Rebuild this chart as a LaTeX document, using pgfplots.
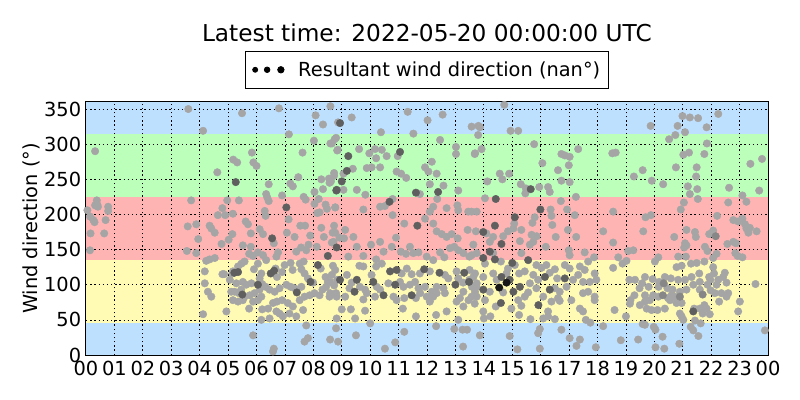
\documentclass[border=0pt]{standalone}
\usepackage{fontspec}
\setmainfont{DejaVu Sans}
\usepackage{pgfplots}
\pgfplotsset{compat=1.18}
\definecolor{bandblue}{RGB}{190,224,255}
\definecolor{bandyellow}{RGB}{255,251,180}
\definecolor{bandred}{RGB}{255,180,180}
\definecolor{bandgreen}{RGB}{187,255,187}
\definecolor{ptlight}{RGB}{165,165,165}
\definecolor{ptmid}{RGB}{135,135,135}
\definecolor{ptdark}{RGB}{95,95,95}
\definecolor{ptblack}{RGB}{25,25,25}
\begin{document}
\begin{tikzpicture}
\useasboundingbox (0,0) rectangle (576bp,288bp);
\node[anchor=base, inner sep=0pt, font=\fontsize{16.8}{20}\selectfont] at (307.4bp,257.8bp) {Latest time: 2022-05-20 00:00:00 UTC};
\begin{axis}[
  at={(61.92bp,32.4bp)}, anchor=south west,
  scale only axis, width=491.04bp, height=182.16bp,
  xmin=0, xmax=24, ymin=0, ymax=360,
  xtick={0,1,...,24},
  xticklabels={00,01,02,03,04,05,06,07,08,09,10,11,12,13,14,15,16,17,18,19,20,21,22,23,00},
  ytick={0,50,100,150,200,250,300,350},
  yticklabels={0,50,100,150,200,250,300,350},
  tick align=inside,
  major tick length=4bp,
  tick style={black, line width=0.6bp},
  axis line style={line width=0.8bp},
  ticklabel style={font=\fontsize{14}{16}\selectfont},
  xticklabel style={inner ysep=0.5bp, yshift=-3.8bp},
  yticklabel style={inner ysep=0.5bp},
  ylabel={Wind direction (°)},
  ylabel style={font=\fontsize{14}{16}\selectfont, at={(axis description cs:-0.0806,0.5)}, anchor=center},
  legend style={at={(0.5,1)}, anchor=south, yshift=9.36bp, draw=black, line width=0.6bp, fill=white,
    font=\fontsize{14}{16}\selectfont, inner xsep=4bp, inner ysep=5.5bp},
  legend cell align=left,
  gridline/.style={black, line width=0.5bp, dash pattern=on 1bp off 2bp, forget plot},
  pts/.style={only marks, mark=*, mark size=2.7bp, mark options={draw=#1, fill=#1, line width=0.3bp}, forget plot},
]
\addplot[draw=none, fill=bandblue, forget plot] coordinates {(0,360) (24,360)} \closedcycle;
\addplot[draw=none, fill=bandgreen, forget plot] coordinates {(0,315) (24,315)} \closedcycle;
\addplot[draw=none, fill=bandred, forget plot] coordinates {(0,225) (24,225)} \closedcycle;
\addplot[draw=none, fill=bandyellow, forget plot] coordinates {(0,135) (24,135)} \closedcycle;
\addplot[draw=none, fill=bandblue, forget plot] coordinates {(0,45) (24,45)} \closedcycle;

\pgfplotsinvokeforeach{1,...,23}{\addplot[gridline] coordinates {(#1,0) (#1,360)};}
\pgfplotsinvokeforeach{50,100,...,350}{\addplot[gridline] coordinates {(0,#1) (24,#1)};}

\addlegendimage{legend image code/.code={
  \path[draw=none, fill=none] (-3bp,-0.1bp) rectangle (29bp,0.1bp);
  \fill[black] (0bp,0bp) circle (1.8bp);
  \fill[black] (8.6bp,0bp) circle (2.0bp);
  \fill[black] (18.5bp,0bp) circle (2.3bp);
}}
\addlegendentry{Resultant wind direction (nan°)}

% light points
\addplot[pts=ptlight] table {
h d
0.32 290
0.05 206
0.38 220
0.40 214
0.32 213
0.42 211
0.14 197
0.26 192
0.30 189
0.78 211
0.78 205
0.69 192
0.16 173
0.64 173
0.14 149
3.60 350
3.58 183
3.55 148
6.79 351
5.49 344
4.12 319
8.08 341
8.34 328
8.60 354
8.87 331
7.14 314
8.02 305
8.60 301
8.75 307
8.84 291
5.84 288
7.62 288
5.18 278
5.32 274
5.89 274
6.00 269
4.62 260
6.43 243
7.19 244
7.47 253
7.28 240
8.28 250
8.34 236
8.55 251
8.57 245
8.73 255
8.04 232
6.90 227
6.34 229
6.38 224
6.43 219
7.66 225
7.73 221
8.19 222
3.70 220
5.38 220
4.97 220
8.43 214
8.48 208
8.77 210
4.80 209
4.64 199
4.90 199
5.17 201
6.29 205
6.32 198
8.14 202
8.22 203
8.04 215
7.13 193
3.88 186
4.35 184
4.41 180
4.53 174
5.62 190
5.70 186
5.80 173
6.11 179
6.23 172
5.15 172
3.95 165
5.02 164
4.77 158
5.52 156
5.80 154
6.61 159
6.76 146
6.70 140
7.07 174
7.34 168
7.54 184
7.71 184
7.83 157
7.57 153
7.40 147
7.89 170
8.12 154
8.28 181
8.37 168
8.65 160
8.77 174
8.73 184
7.75 149
6.23 142
6.05 146
5.88 141
5.74 144
4.53 138
4.35 136
4.23 134
3.88 145
5.58 133
5.47 130
5.35 126
5.17 119
5.15 116
4.86 115
4.18 119
6.05 130
5.91 122
6.17 116
6.11 109
6.34 135
6.67 123
6.72 111
6.90 118
6.99 128
7.20 131
7.52 130
7.27 121
7.58 122
7.66 133
7.69 116
7.81 109
7.99 103
8.26 123
8.43 111
8.51 104
8.65 114
8.84 107
8.73 99
8.69 127
5.06 107
5.29 102
5.52 104
5.64 100
5.82 102
5.46 93
5.23 90
5.11 90
5.38 88
5.58 83
5.76 85
5.93 88
6.11 93
6.20 101
6.32 97
6.46 93
6.64 90
6.81 95
7.05 100
7.20 97
7.34 95
7.58 97
7.69 83
7.87 85
8.04 88
8.22 85
8.32 93
8.45 97
8.57 83
8.80 88
5.17 78
5.35 76
5.52 78
5.74 66
5.88 76
6.05 78
6.17 83
6.41 66
6.58 74
6.72 76
6.90 78
7.10 74
7.28 69
7.52 78
7.64 64
6.70 62
6.81 59
7.16 59
6.20 65
4.94 62
4.12 58
4.41 83
4.29 90
4.18 102
4.80 115
6.17 50
6.46 52
6.93 55
7.40 55
7.75 42
7.81 24
7.69 19
5.88 28
6.61 9
6.58 5
8.80 38
8.87 19
9.35 338
11.32 346
12.55 342
12.02 334
13.57 325
13.81 326
10.38 317
11.52 315
12.46 306
8.65 301
8.80 309
8.86 292
9.61 293
9.97 287
10.17 293
10.41 292
10.58 283
10.21 280
10.97 283
13.02 296
13.02 286
13.69 287
9.88 266
10.05 267
10.35 267
10.93 261
11.09 258
11.27 252
9.39 265
9.06 258
8.73 259
8.62 247
9.06 235
9.53 235
9.83 228
11.93 267
12.05 261
12.17 275
12.34 258
12.58 241
12.10 243
11.75 229
12.36 222
13.10 234
10.79 222
10.52 212
10.35 211
8.77 210
9.76 207
10.79 199
12.10 204
12.22 211
12.69 209
13.07 213
13.10 206
13.45 204
13.75 204
11.20 187
11.93 194
12.22 187
12.34 176
12.52 172
12.69 168
12.81 152
12.96 154
13.10 149
13.28 145
12.87 172
13.08 166
13.43 178
13.72 176
13.49 140
13.75 145
8.68 174
8.71 161
8.92 167
9.12 178
9.08 166
9.41 168
9.53 154
10.03 157
10.35 161
10.76 154
10.91 167
11.08 147
11.40 154
11.52 145
11.70 146
11.99 140
11.26 144
12.46 146
12.61 139
9.23 140
9.76 141
10.21 136
10.47 147
12.22 135
9.76 126
9.62 127
10.21 126
10.41 130
11.11 116
11.29 123
11.46 115
11.75 116
12.10 119
12.63 114
12.75 109
13.04 119
13.49 107
13.69 116
13.75 102
8.77 121
8.59 104
9.18 114
9.35 103
9.27 95
9.64 97
9.82 93
9.88 88
10.05 114
10.23 97
10.35 93
10.64 102
11.05 104
11.17 97
11.40 100
11.58 104
11.70 95
11.76 88
11.93 97
11.99 83
12.17 90
12.34 97
12.58 95
12.63 88
13.10 109
13.27 103
13.58 97
13.28 90
13.69 90
8.59 88
8.82 83
9.12 83
9.76 79
10.17 83
10.82 83
10.93 78
11.20 81
11.61 81
12.10 76
12.22 83
12.34 88
13.04 76
13.16 81
13.46 78
13.75 83
9.00 65
9.32 65
9.82 63
11.15 66
11.61 55
12.32 57
12.69 62
13.10 50
13.28 69
8.82 52
9.47 52
10.00 45
9.50 28
10.52 9
10.88 18
11.20 33
12.32 41
12.96 37
13.27 12
13.25 36
13.41 36
8.59 22
14.72 356
13.86 324
13.80 313
14.94 319
15.21 319
15.77 300
13.68 286
13.92 293
16.73 286
16.85 284
17.02 282
17.32 293
18.52 287
18.64 288
16.06 273
16.61 263
16.99 270
14.56 258
14.65 250
14.89 258
14.12 247
15.30 243
15.48 237
15.46 230
15.95 239
16.26 239
16.32 232
16.73 248
17.02 246
17.24 225
14.04 223
16.35 207
16.71 219
16.93 207
18.55 204
15.79 196
16.38 198
15.71 188
17.20 199
15.07 187
15.04 180
14.09 173
14.33 168
14.68 169
14.85 176
15.32 178
15.68 171
15.86 169
16.41 185
16.53 168
16.96 178
17.25 168
18.20 176
13.63 157
14.21 161
15.27 162
15.62 157
15.74 161
16.18 154
16.99 149
17.02 142
17.55 146
17.88 139
18.55 160
14.33 145
14.04 130
13.57 142
15.32 145
14.60 133
15.09 128
14.85 123
15.85 128
16.03 124
16.20 128
16.50 122
16.85 128
17.02 123
17.38 126
17.55 121
17.67 133
17.90 116
18.55 124
15.44 119
15.24 116
13.50 121
13.63 111
13.98 111
14.33 116
14.45 107
14.80 116
15.74 114
15.91 107
16.32 117
16.58 109
17.14 107
17.32 114
17.49 104
17.73 104
17.96 107
13.74 97
14.21 90
14.68 89
15.62 102
15.56 89
15.85 95
16.50 95
16.67 90
16.91 97
17.49 88
17.90 83
17.67 90
13.57 83
14.04 78
15.21 78
15.44 83
16.09 83
16.38 76
16.61 81
16.67 77
17.08 78
17.38 66
13.68 73
13.98 62
14.42 69
14.97 66
15.32 70
16.26 62
17.49 62
17.90 78
14.00 52
14.23 55
15.24 57
15.64 51
16.09 52
16.26 55
16.50 51
17.59 50
17.75 46
18.60 64
16.73 36
15.97 37
15.91 31
14.91 27
13.86 28
17.02 24
17.38 22
18.20 41
15.18 8
15.97 9
17.26 13
17.94 11
13.57 204
22.25 343
20.99 340
21.25 338
21.54 337
20.82 326
19.87 326
21.84 324
21.08 317
20.74 313
20.52 307
21.85 301
21.02 285
21.22 288
21.76 286
23.38 272
23.79 279
19.59 263
20.76 267
21.49 267
19.28 254
19.91 248
20.31 243
21.47 254
21.18 240
21.51 236
21.25 229
21.53 222
22.63 238
23.69 234
23.10 227
23.24 218
22.60 217
21.04 217
20.93 207
22.21 198
19.69 196
19.88 199
22.78 192
22.95 190
23.10 194
23.19 186
23.24 180
23.36 181
23.60 176
23.31 174
19.61 176
21.13 178
21.43 175
21.46 168
21.93 172
22.07 177
20.70 168
21.08 159
21.05 153
21.13 156
21.78 154
21.87 148
22.57 158
22.78 161
22.87 159
22.85 145
22.93 141
23.10 139
22.19 144
22.07 138
19.08 148
19.26 149
18.73 139
18.88 130
19.02 134
20.14 139
20.02 133
20.84 140
21.11 140
21.29 130
21.49 131
20.78 125
20.96 127
21.76 133
22.07 125
22.10 116
21.93 111
21.97 107
21.58 116
21.31 111
21.08 107
20.84 107
20.58 109
20.37 111
20.17 104
19.94 108
19.67 111
19.32 107
19.12 107
22.48 117
22.42 111
22.25 107
22.54 103
22.19 100
21.87 100
21.60 104
21.37 100
21.13 93
20.90 90
20.64 93
20.46 95
20.15 97
19.80 97
19.57 102
19.48 95
23.56 101
22.36 88
22.54 83
22.60 88
22.13 88
21.98 92
21.60 93
20.60 85
20.48 81
20.14 83
19.96 85
19.67 85
19.30 85
19.16 78
19.14 73
19.49 71
19.67 76
19.84 78
19.73 66
19.90 64
20.11 64
20.37 66
20.55 78
20.72 83
20.78 74
20.96 74
21.40 66
21.60 66
21.76 71
21.84 66
21.70 59
21.95 58
22.28 76
23.01 76
22.95 62
19.00 55
19.59 44
19.67 43
19.98 40
20.04 36
20.90 59
20.96 55
21.02 50
21.43 49
21.63 45
21.28 40
21.37 35
21.55 27
20.29 26
19.43 22
18.82 21
20.04 11
20.35 9
20.88 16
23.89 35
};

% mid points
\addplot[pts=ptmid] table {
h d
22.16 169
20.33 102
21.70 86
20.30 85
20.90 83
};

% dark points
\addplot[pts=ptdark] table {
h d
5.27 246
8.81 234
7.05 210
6.55 166
8.51 141
6.50 116
7.90 104
8.16 128
7.42 89
5.22 117
5.35 118
5.50 86
6.05 100
6.62 120
8.94 330
9.23 283
11.05 289
9.18 262
9.00 247
8.82 235
11.61 231
12.39 232
10.68 218
11.66 184
8.82 153
10.70 119
10.93 121
11.90 122
12.44 117
13.31 117
8.94 107
9.53 107
9.45 90
10.11 104
10.47 85
10.88 100
11.46 85
13.00 100
13.48 104
15.65 236
14.42 222
15.99 207
15.09 196
14.39 184
13.98 175
14.62 158
14.21 147
13.98 138
14.39 136
15.00 131
15.56 135
14.62 111
14.91 107
16.15 111
16.85 109
15.27 97
15.04 90
13.98 93
16.32 93
14.60 74
15.92 71
21.37 62
};

% black points
\addplot[pts=ptblack] table {
h d
14.54 96
14.80 103
};
\end{axis}
\end{tikzpicture}
\end{document}
